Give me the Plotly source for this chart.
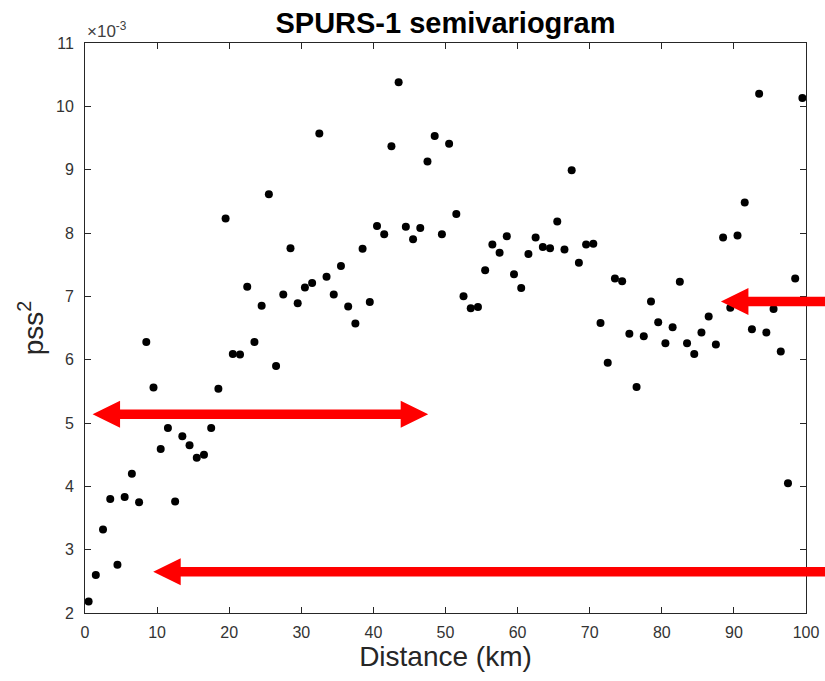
import plotly.graph_objects as go

# Semivariogram lag distances (km)
distance_km = [0.5, 1.5, 2.5, 3.5, 4.5, 5.5, 6.5, 7.5, 8.5, 9.5,
               10.5, 11.5, 12.5, 13.5, 14.5, 15.5, 16.5, 17.5, 18.5, 19.5,
               20.5, 21.5, 22.5, 23.5, 24.5, 25.5, 26.5, 27.5, 28.5, 29.5,
               30.5, 31.5, 32.5, 33.5, 34.5, 35.5, 36.5, 37.5, 38.5, 39.5,
               40.5, 41.5, 42.5, 43.5, 44.5, 45.5, 46.5, 47.5, 48.5, 49.5,
               50.5, 51.5, 52.5, 53.5, 54.5, 55.5, 56.5, 57.5, 58.5, 59.5,
               60.5, 61.5, 62.5, 63.5, 64.5, 65.5, 66.5, 67.5, 68.5, 69.5,
               70.5, 71.5, 72.5, 73.5, 74.5, 75.5, 76.5, 77.5, 78.5, 79.5,
               80.5, 81.5, 82.5, 83.5, 84.5, 85.5, 86.5, 87.5, 88.5, 89.5,
               90.5, 91.5, 92.5, 93.5, 94.5, 95.5, 96.5, 97.5, 98.5, 99.5]

# Semivariance (pss^2), in units of 1e-3
semivariance_e3 = [2.18, 2.60, 3.32, 3.80, 2.76, 3.83, 4.20, 3.75, 6.28, 5.56,
                   4.59, 4.92, 3.76, 4.79, 4.65, 4.45, 4.50, 4.92, 5.54, 8.23,
                   6.09, 6.08, 7.15, 6.28, 6.85, 8.61, 5.90, 7.03, 7.76, 6.89,
                   7.14, 7.21, 9.57, 7.31, 7.03, 7.48, 6.84, 6.57, 7.75, 6.91,
                   8.11, 7.98, 9.37, 10.38, 8.10, 7.90, 8.08, 9.13, 9.53, 7.98,
                   9.41, 8.30, 7.00, 6.81, 6.83, 7.41, 7.82, 7.69, 7.95, 7.35,
                   7.13, 7.67, 7.93, 7.78, 7.76, 8.18, 7.74, 8.99, 7.53, 7.82,
                   7.83, 6.58, 5.95, 7.28, 7.24, 6.41, 5.57, 6.37, 6.92, 6.59,
                   6.26, 6.51, 7.23, 6.26, 6.09, 6.43, 6.68, 6.24, 7.93, 6.82,
                   7.96, 8.48, 6.48, 10.20, 6.43, 6.80, 6.13, 4.05, 7.28, 10.13]

x_ticks = [0, 10, 20, 30, 40, 50, 60, 70, 80, 90, 100]
y_ticks = [2, 3, 4, 5, 6, 7, 8, 9, 10, 11]

X_RANGE = [0, 100]
Y_RANGE = [2, 11]

W, H = 825, 681
ML, MR, MT, MB = 85, 19, 43, 68
PW, PH = W - ML - MR, H - MT - MB

FONT = "Liberation Sans, Arial, Helvetica, sans-serif"
AX = "#262626"
TICK_TXT = "#333333"

fig = go.Figure()
fig.add_trace(go.Scatter(
    x=distance_km, y=semivariance_e3, mode="markers",
    marker=dict(color="black", size=8, line=dict(width=0)),
    showlegend=False, cliponaxis=False,
))


def to_paper(xv, yv):
    px = (xv - X_RANGE[0]) / (X_RANGE[1] - X_RANGE[0])
    py = (yv - Y_RANGE[0]) / (Y_RANGE[1] - Y_RANGE[0])
    return px, py


def arrow_path(x_start, x_end, yv, double=False):
    """Horizontal red arrow pointing to x_end (data units), optional head at x_start."""
    shaft = 4.75 / PH   # half thickness in paper units
    head_h = 13.5 / PH
    head_l = 27.5 / PW
    x0, y0 = to_paper(x_start, yv)
    x1, _ = to_paper(x_end, yv)
    left, right = min(x0, x1), max(x0, x1)
    pts = []
    pts += [(left, y0), (left + head_l, y0 + head_h), (left + head_l, y0 + shaft)]
    if double:
        pts += [(right - head_l, y0 + shaft), (right - head_l, y0 + head_h), (right, y0),
                (right - head_l, y0 - head_h), (right - head_l, y0 - shaft)]
    else:
        pts += [(right, y0 + shaft), (right, y0 - shaft)]
    pts += [(left + head_l, y0 - shaft), (left + head_l, y0 - head_h)]
    return "M " + " L ".join(f"{a:.5f},{b:.5f}" for a, b in pts) + " Z"


# annotation arrows (x_from, x_to in km, y level in 1e-3 pss^2)
arrows = [
    dict(x_start=47.6, x_end=1.05, y=5.14, double=True),
    dict(x_start=102.7, x_end=9.46, y=2.65, double=False),
    dict(x_start=102.7, x_end=88.2, y=6.92, double=False),
]
for a in arrows:
    fig.add_shape(type="path", xref="paper", yref="paper",
                  path=arrow_path(a["x_start"], a["x_end"], a["y"], a["double"]),
                  fillcolor="#FF0000", line=dict(width=0), layer="above")

axis_common = dict(
    showgrid=False, zeroline=False, showline=True, linecolor=AX, linewidth=1,
    mirror="ticks", ticks="inside", ticklen=6, tickwidth=1, tickcolor=AX,
    tickfont=dict(family=FONT, size=16, color=TICK_TXT),
)

fig.update_layout(
    width=W, height=H,
    margin=dict(l=ML, r=MR, t=MT, b=MB, autoexpand=False),
    paper_bgcolor="white", plot_bgcolor="white",
    title=dict(text="<b>SPURS-1 semivariogram</b>",
               font=dict(family=FONT, size=29, color="black"),
               x=0.5 * (ML + ML + PW) / W, xanchor="center",
               y=1 - 23 / H, yanchor="middle", yref="container"),
    xaxis=dict(range=X_RANGE, tickvals=x_ticks, ticktext=[str(v) for v in x_ticks],
               ticklabelstandoff=5,
               title=dict(text="Distance (km)", font=dict(family=FONT, size=28, color=AX),
                          standoff=6),
               **axis_common),
    yaxis=dict(range=Y_RANGE, tickvals=y_ticks, ticktext=[str(v) for v in y_ticks],
               ticklabelstandoff=7,
               title=dict(text="pss<sup>2</sup>", font=dict(family=FONT, size=28, color=AX),
                          standoff=4),
               **axis_common),
    annotations=[dict(text="×10<sup>-3</sup>", xref="paper", yref="paper",
                      x=0, y=1, xanchor="left", yanchor="bottom", yshift=0,
                      showarrow=False, font=dict(family=FONT, size=17, color="#404040"))],
)

fig.write_html("out.html")
